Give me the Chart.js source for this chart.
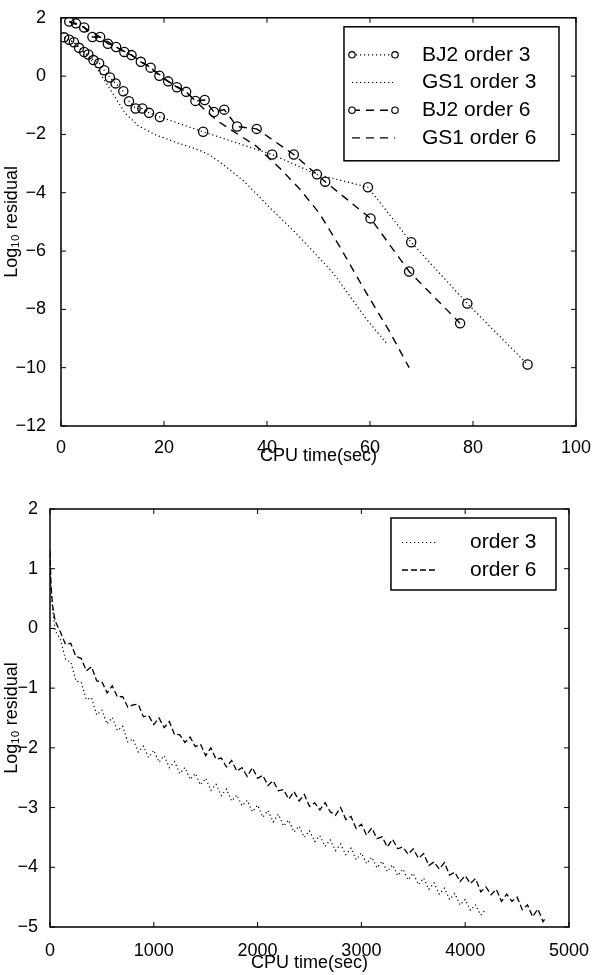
<!DOCTYPE html>
<html>
<head>
<meta charset="utf-8">
<script src="https://cdn.jsdelivr.net/npm/chart.js@4"></script>
<style>
  body { margin: 0; background: #fff; }
  .box { position: absolute; left: 0; width: 594px; }
  #topBox { top: 0; height: 475px; }
  #bottomBox { top: 475px; height: 500px; }
</style>
</head>
<body>
<div class="box" id="topBox"><canvas id="topChart" width="594" height="475"></canvas></div>
<div class="box" id="bottomBox"><canvas id="bottomChart" width="594" height="500"></canvas></div>
<script>
// top panel: BJ2 vs GS1 smoothers
const bj2o3Time = [0.6, 1.6, 2.5, 3.5, 4.5, 5.3, 6.3, 7.4, 8.4, 9.5, 10.6, 12.1, 13.2, 14.5, 15.8, 17.1, 19.2, 27.6, 41.0, 49.7, 59.6, 68.0, 78.9, 90.6];
const bj2o3Resid = [1.33, 1.25, 1.16, 0.97, 0.83, 0.74, 0.55, 0.44, 0.20, -0.05, -0.25, -0.52, -0.86, -1.11, -1.11, -1.26, -1.40, -1.91, -2.69, -3.37, -3.81, -5.70, -7.80, -9.89];

const gs1o3Time = [0.6, 2.5, 4.5, 6.3, 8.5, 10.5, 12.5, 15.0, 18.2, 22.0, 27.0, 29.0, 32.0, 35.5, 40.5, 45.7, 52.8, 59.2, 63.4];
const gs1o3Resid = [1.33, 1.16, 0.83, 0.45, -0.16, -0.72, -1.28, -1.70, -2.00, -2.25, -2.55, -2.72, -3.10, -3.60, -4.50, -5.40, -6.74, -8.31, -9.21];

const bj2o6Time = [1.6, 2.9, 4.5, 6.1, 7.6, 9.1, 10.7, 12.3, 13.7, 15.5, 17.4, 19.1, 20.8, 22.5, 24.3, 26.1, 27.9, 29.7, 31.7, 34.2, 38.0, 45.2, 51.3, 60.1, 67.6, 77.5];
const bj2o6Resid = [1.87, 1.81, 1.67, 1.34, 1.34, 1.11, 1.00, 0.83, 0.72, 0.49, 0.29, 0.01, -0.18, -0.38, -0.54, -0.85, -0.82, -1.23, -1.15, -1.73, -1.81, -2.69, -3.62, -4.88, -6.70, -8.48];

const gs1o6Time = [1.6, 4.5, 7.6, 10.7, 13.7, 17.4, 20.8, 24.3, 26.1, 28.2, 30.5, 33.1, 37.9, 42.4, 46.5, 50.2, 54.1, 59.2, 63.8, 67.6];
const gs1o6Resid = [1.87, 1.67, 1.34, 1.00, 0.72, 0.29, -0.18, -0.54, -0.85, -1.20, -1.55, -1.85, -2.40, -3.14, -3.90, -4.71, -5.84, -7.41, -8.76, -10.00];

// bottom panel: long runs
const order3Time = [0, 10, 25, 50, 100, 150, 200, 250, 300, 350, 400, 450, 500, 550, 600, 650, 700, 750, 800, 850, 900, 950, 1000, 1050, 1100, 1150, 1200, 1250, 1300, 1350, 1400, 1450, 1500, 1550, 1600, 1650, 1700, 1750, 1800, 1850, 1900, 1950, 2000, 2050, 2100, 2150, 2200, 2250, 2300, 2350, 2400, 2450, 2500, 2550, 2600, 2650, 2700, 2750, 2800, 2850, 2900, 2950, 3000, 3050, 3100, 3150, 3200, 3250, 3300, 3350, 3400, 3450, 3500, 3550, 3600, 3650, 3700, 3750, 3800, 3850, 3900, 3950, 4000, 4050, 4100, 4150, 4200];
const order3Resid = [1.20, 0.62, 0.33, -0.04, -0.18, -0.52, -0.56, -0.88, -0.90, -1.19, -1.16, -1.45, -1.37, -1.60, -1.49, -1.71, -1.64, -1.90, -1.85, -2.07, -1.97, -2.16, -2.04, -2.24, -2.13, -2.33, -2.23, -2.43, -2.33, -2.53, -2.43, -2.62, -2.51, -2.71, -2.61, -2.80, -2.69, -2.89, -2.79, -2.97, -2.88, -3.07, -2.96, -3.16, -3.05, -3.24, -3.11, -3.31, -3.21, -3.41, -3.31, -3.50, -3.39, -3.57, -3.47, -3.65, -3.54, -3.72, -3.61, -3.79, -3.68, -3.87, -3.76, -3.94, -3.83, -4.01, -3.90, -4.07, -3.96, -4.14, -4.03, -4.21, -4.10, -4.29, -4.18, -4.37, -4.26, -4.45, -4.35, -4.54, -4.44, -4.63, -4.54, -4.72, -4.63, -4.80, -4.70];

const order6Time = [0, 10, 25, 50, 100, 150, 200, 250, 300, 350, 400, 450, 500, 550, 600, 650, 700, 750, 800, 850, 900, 950, 1000, 1050, 1100, 1150, 1200, 1250, 1300, 1350, 1400, 1450, 1500, 1550, 1600, 1650, 1700, 1750, 1800, 1850, 1900, 1950, 2000, 2050, 2100, 2150, 2200, 2250, 2300, 2350, 2400, 2450, 2500, 2550, 2600, 2650, 2700, 2750, 2800, 2850, 2900, 2950, 3000, 3050, 3100, 3150, 3200, 3250, 3300, 3350, 3400, 3450, 3500, 3550, 3600, 3650, 3700, 3750, 3800, 3850, 3900, 3950, 4000, 4050, 4100, 4150, 4200, 4250, 4300, 4350, 4400, 4450, 4500, 4550, 4600, 4650, 4700, 4750, 4780];
const order6Resid = [1.30, 0.72, 0.38, 0.12, -0.06, -0.27, -0.25, -0.47, -0.50, -0.71, -0.64, -0.88, -0.89, -1.08, -0.96, -1.15, -1.14, -1.32, -1.28, -1.27, -1.48, -1.46, -1.61, -1.50, -1.66, -1.56, -1.78, -1.78, -1.91, -1.82, -1.98, -1.94, -2.13, -2.00, -2.19, -2.17, -2.32, -2.21, -2.39, -2.33, -2.48, -2.33, -2.51, -2.46, -2.63, -2.55, -2.72, -2.70, -2.86, -2.73, -2.89, -2.78, -2.98, -2.92, -3.04, -2.92, -3.07, -3.13, -3.00, -3.20, -3.15, -3.35, -3.28, -3.46, -3.34, -3.52, -3.49, -3.66, -3.53, -3.69, -3.66, -3.78, -3.69, -3.85, -3.77, -3.97, -3.91, -4.03, -3.92, -4.13, -4.08, -4.24, -4.14, -4.27, -4.19, -4.41, -4.33, -4.46, -4.37, -4.57, -4.45, -4.57, -4.50, -4.71, -4.63, -4.83, -4.70, -4.91, -4.83];

const FONT = "'Liberation Sans', Arial, Helvetica, sans-serif";
const DOTTED = [1.2, 2.8];
const DASHED = [8, 6];

function pts(xs, ys) {
    return xs.map((x, i) => ({ x: x, y: ys[i] }));
}

function tickText(v) {
    return v < 0 ? '\u2212' + Math.abs(v) : String(v);
}

// box around the plot + inward ticks on all four sides
const frame = {
    id: 'frame',
    afterDraw(chart) {
        const { ctx, chartArea: a, scales } = chart;
        const len = 5;
        ctx.save();
        ctx.strokeStyle = '#000';
        ctx.lineWidth = 1;
        ctx.beginPath();
        scales.x.ticks.forEach(t => {
            const px = scales.x.getPixelForValue(t.value);
            ctx.moveTo(px, a.bottom); ctx.lineTo(px, a.bottom - len);
            ctx.moveTo(px, a.top); ctx.lineTo(px, a.top + len);
        });
        scales.y.ticks.forEach(t => {
            const py = scales.y.getPixelForValue(t.value);
            ctx.moveTo(a.left, py); ctx.lineTo(a.left + len, py);
            ctx.moveTo(a.right, py); ctx.lineTo(a.right - len, py);
        });
        ctx.stroke();
        ctx.lineWidth = 1.5;
        ctx.strokeRect(a.left, a.top, a.right - a.left, a.bottom - a.top);
        ctx.restore();
    }
};

// matlab-like boxed legend inside the axes
const boxLegend = {
    id: 'boxLegend',
    afterDraw(chart, args, o) {
        const { ctx, chartArea: a } = chart;
        const x0 = a.right - o.right - o.width;
        const y0 = a.top + o.top;
        ctx.save();
        ctx.fillStyle = '#fff';
        ctx.fillRect(x0, y0, o.width, o.height);
        ctx.strokeStyle = '#000';
        ctx.lineWidth = 1.5;
        ctx.strokeRect(x0, y0, o.width, o.height);
        ctx.font = o.fontSize + 'px ' + FONT;
        ctx.textBaseline = 'middle';
        chart.data.datasets.forEach((ds, i) => {
            const y = y0 + o.firstRow + i * o.rowStep;
            const xa = x0 + o.sample[0];
            const xb = x0 + o.sample[1];
            ctx.strokeStyle = '#000';
            ctx.lineWidth = ds.borderWidth;
            ctx.setLineDash(ds.borderDash || []);
            ctx.beginPath();
            ctx.moveTo(xa, y); ctx.lineTo(xb, y);
            ctx.stroke();
            ctx.setLineDash([]);
            if (ds.pointRadius > 0) {
                ctx.lineWidth = 1.2;
                [xa, xb].forEach(cx => {
                    ctx.beginPath();
                    ctx.arc(cx, y, 3.2, 0, Math.PI * 2);
                    ctx.fillStyle = '#fff';
                    ctx.fill();
                    ctx.stroke();
                });
            }
            ctx.fillStyle = '#000';
            ctx.fillText(ds.label, x0 + o.textX, y);
        });
        ctx.restore();
    }
};

function series(label, data, dash, width, marker) {
    return {
        label: label,
        data: data,
        borderColor: '#000',
        borderWidth: width,
        borderDash: dash,
        fill: false,
        tension: 0,
        pointRadius: marker ? 4.6 : 0,
        pointStyle: 'circle',
        pointBorderColor: '#000',
        pointBorderWidth: 1.3,
        pointBackgroundColor: 'rgba(0,0,0,0)'
    };
}

function axes(cfg) {
    return {
        x: {
            type: 'linear',
            min: cfg.xMin, max: cfg.xMax,
            afterBuildTicks: s => { s.ticks = cfg.xTicks.map(v => ({ value: v })); },
            afterFit: s => { s.height = cfg.xHeight; },
            grid: { display: false },
            border: { display: false },
            ticks: { color: '#000', padding: cfg.xPad, font: { family: FONT, size: 18 }, maxRotation: 0, callback: tickText },
            title: { display: true, text: 'CPU time(sec)', color: '#000', font: { family: FONT, size: 18 }, padding: { top: 0, bottom: cfg.xTitlePad } }
        },
        y: {
            type: 'linear',
            min: cfg.yMin, max: cfg.yMax,
            afterBuildTicks: s => { s.ticks = cfg.yTicks.map(v => ({ value: v })); },
            afterFit: s => { s.width = cfg.yWidth; },
            grid: { display: false },
            border: { display: false },
            ticks: { color: '#000', padding: cfg.yPad, font: { family: FONT, size: 18 }, callback: tickText },
            title: { display: true, text: 'Log\u2081\u2080 residual', color: '#000', font: { family: FONT, size: 18 }, padding: { top: cfg.yTitlePad, bottom: 0 } }
        }
    };
}

new Chart(document.getElementById('topChart'), {
    type: 'line',
    data: {
        datasets: [
            series('BJ2 order 3', pts(bj2o3Time, bj2o3Resid), DOTTED, 1.2, true),
            series('GS1 order 3', pts(gs1o3Time, gs1o3Resid), DOTTED, 1.2, false),
            series('BJ2 order 6', pts(bj2o6Time, bj2o6Resid), DASHED, 1.4, true),
            series('GS1 order 6', pts(gs1o6Time, gs1o6Resid), DASHED, 1.4, false)
        ]
    },
    options: {
        responsive: false,
        animation: false,
        layout: { autoPadding: false, padding: { top: 11, right: 17, left: 0, bottom: 0 } },
        scales: axes({
            xMin: 0, xMax: 100, xTicks: [0, 20, 40, 60, 80, 100],
            yMin: -12, yMax: 2, yTicks: [-12, -10, -8, -6, -4, -2, 0, 2],
            xHeight: 49, yWidth: 61, xPad: 3, yPad: 7, xTitlePad: 8, yTitlePad: 1
        }),
        plugins: {
            legend: { display: false },
            tooltip: { enabled: false },
            boxLegend: { right: 17, top: 9, width: 215, height: 134, firstRow: 28, rowStep: 27.7, sample: [8, 51], textX: 78, fontSize: 21 }
        }
    },
    plugins: [frame, boxLegend]
});

new Chart(document.getElementById('bottomChart'), {
    type: 'line',
    data: {
        datasets: [
            series('order 3', pts(order3Time, order3Resid), DOTTED, 1.2, false),
            series('order 6', pts(order6Time, order6Resid), [6, 3], 1.3, false)
        ]
    },
    options: {
        responsive: false,
        animation: false,
        layout: { autoPadding: false, padding: { top: 34, right: 25, left: 0, bottom: 0 } },
        scales: axes({
            xMin: 0, xMax: 5000, xTicks: [0, 1000, 2000, 3000, 4000, 5000],
            yMin: -5, yMax: 2, yTicks: [-5, -4, -3, -2, -1, 0, 1, 2],
            xHeight: 48, yWidth: 50, xPad: 5, yPad: 4, xTitlePad: 1, yTitlePad: 1
        }),
        plugins: {
            legend: { display: false },
            tooltip: { enabled: false },
            boxLegend: { right: 13, top: 9, width: 165, height: 72, firstRow: 24.5, rowStep: 27.5, sample: [11, 47], textX: 79, fontSize: 21 }
        }
    },
    plugins: [frame, boxLegend]
});
</script>
</body>
</html>
